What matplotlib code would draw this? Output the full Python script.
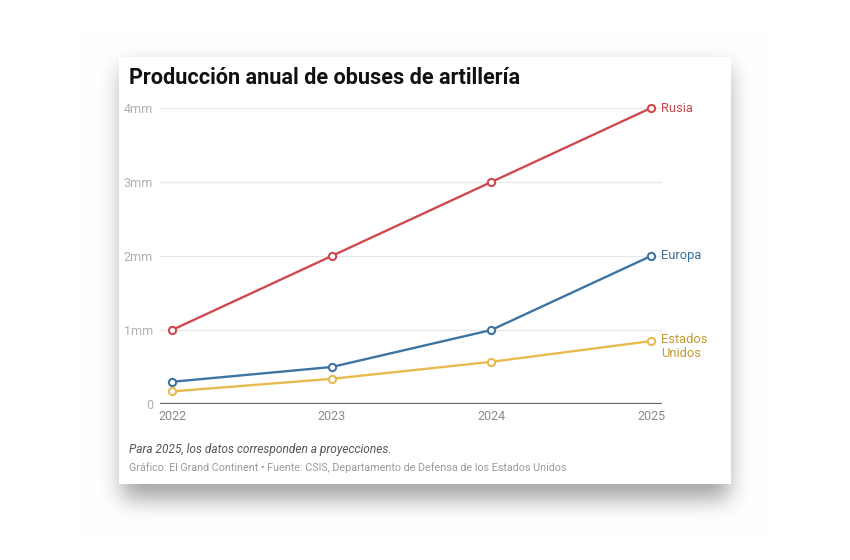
import numpy as np
import matplotlib
matplotlib.use("Agg")
import matplotlib.pyplot as plt
from matplotlib.patches import Rectangle

plt.rcParams['font.family'] = ['Roboto', 'DejaVu Sans']

years = [2022, 2023, 2024, 2025]
rusia = [1.0, 2.0, 3.0, 4.0]
europa = [0.3, 0.5, 1.0, 2.0]
eeuu = [0.17, 0.34, 0.57, 0.85]
series_names = ["Rusia", "Europa", "Estados\nUnidos"]
yticks = [0, 1, 2, 3, 4]
ytick_labels = ["0", "1mm", "2mm", "3mm", "4mm"]

line_colors = ["#cf4a50", "#3d74a1", "#e8bb4e"]
text_colors = ["#c8464c", "#3b6f9b", "#c29a2c"]

W, H = 850, 560
fig = plt.figure(figsize=(W / 100, H / 100), dpi=100)
fig.patch.set_facecolor("white")

# background shadow
bg = fig.add_axes([0, 0, 1, 1])
bg.set_axis_off()
yy, xx = np.mgrid[0:H, 0:W]
mask = ((xx >= 122) & (xx <= 728) & (yy >= 68) & (yy <= 498)).astype(float)
sigma = 11.0
k = np.arange(-40, 41)
g = np.exp(-k ** 2 / (2 * sigma ** 2))
g /= g.sum()
blur = np.apply_along_axis(lambda r: np.convolve(r, g, mode="same"), 1, mask)
blur = np.apply_along_axis(lambda c: np.convolve(c, g, mode="same"), 0, blur)
shade = 1 - 0.36 * blur
img = np.dstack([shade, shade, shade])
bg.imshow(img, extent=[0, W, H, 0], aspect="auto", interpolation="bilinear")
bg.set_xlim(0, W)
bg.set_ylim(H, 0)
bg.add_patch(Rectangle((119, 57), 612, 427, facecolor="white", edgecolor="none"))

# title & notes
fig.text(129 / W, 1 - 78 / H, "Producción anual de obuses de artillería",
         fontsize=15.6, fontweight="bold", color="#111111", va="center", ha="left")
fig.text(129 / W, 1 - 450 / H, "Para 2025, los datos corresponden a proyecciones.",
         fontsize=8.6, fontstyle="italic", color="#555555", va="center", ha="left")
fig.text(129 / W, 1 - 468 / H,
         "Gráfico: El Grand Continent • Fuente: CSIS, Departamento de Defensa de los Estados Unidos",
         fontsize=7.75, color="#9a9a9a", va="center", ha="left")

# main axes
left_px, right_px, bot_px, top_px = 160, 662, 404, 104
ax = fig.add_axes([left_px / W, 1 - bot_px / H, (right_px - left_px) / W, (bot_px - top_px) / H])
ax.patch.set_alpha(0)
ppy = (651 - 172) / 3.0
ax.set_xlim(2022 - (172 - left_px) / ppy, 2025 + (right_px - 651) / ppy)
ax.set_ylim(0, 4 + (108 - top_px) / 74.0)

for s in ax.spines.values():
    s.set_visible(False)
ax.set_yticks(yticks)
ax.set_yticklabels(ytick_labels)
ax.set_xticks(years)
ax.set_xticklabels([str(y) for y in years])
ax.tick_params(axis="y", length=0, pad=5, labelsize=9, labelcolor="#b0b0b0")
ax.tick_params(axis="x", length=0, pad=4, labelsize=9, labelcolor="#8a8a8a")
ax.grid(axis="y", color="#e8e8e8", linewidth=0.9)
ax.grid(axis="x", visible=False)
ax.axhline(0, color="#666666", linewidth=1.6, zorder=2)

for vals, lc, tc, name in zip([rusia, europa, eeuu], line_colors, text_colors, series_names):
    ax.plot(years, vals, color=lc, linewidth=1.7, marker="o", markersize=5.2,
            markerfacecolor="white", markeredgecolor=lc, markeredgewidth=1.5, zorder=3,
            clip_on=False)
    if "\n" in name:
        ax.annotate(name, (years[-1], vals[-1]), xytext=(7.5, 5.5), textcoords="offset points",
                    ha="left", va="top", color=tc, fontsize=9.3, linespacing=1.05)
    else:
        ax.annotate(name, (years[-1], vals[-1]), xytext=(7.5, 0), textcoords="offset points",
                    ha="left", va="center", color=tc, fontsize=9.3)

fig.savefig("out.png", dpi=100, facecolor="white")
